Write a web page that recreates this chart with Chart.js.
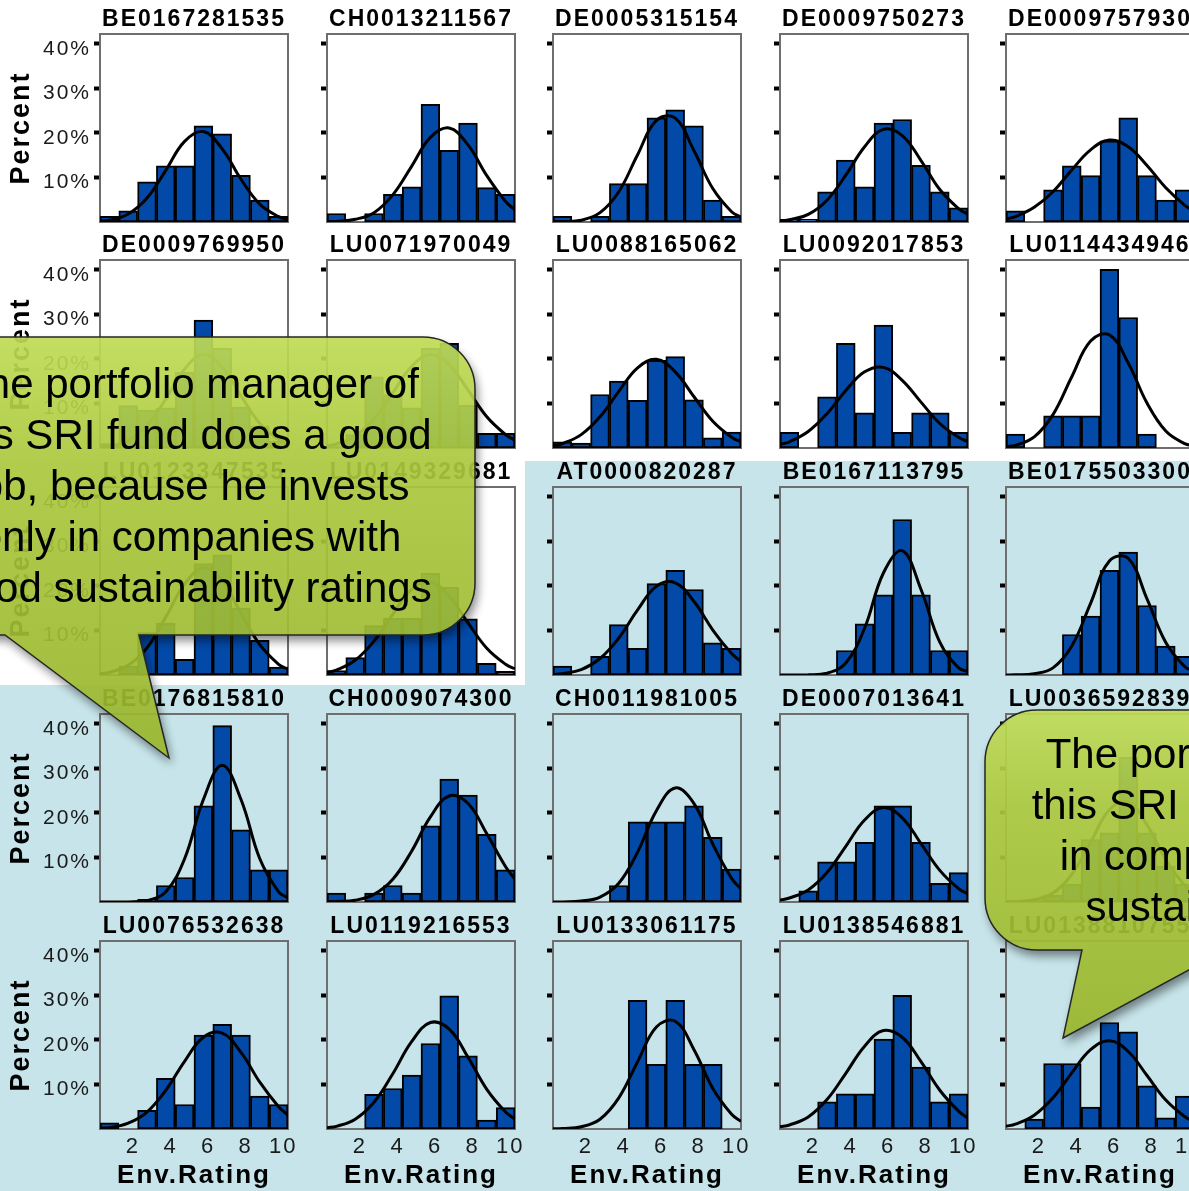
<!DOCTYPE html>
<html>
<head>
<meta charset="utf-8">
<script src="https://cdn.jsdelivr.net/npm/chart.js@4.4.0/dist/chart.umd.min.js"></script>
<style>
  html, body { margin: 0; padding: 0; }
  body {
    width: 1189px; height: 1191px; overflow: hidden; position: relative;
    background: #fff; font-family: 'Liberation Sans', Arial, sans-serif;
  }
  .bg { position: absolute; background: #c6e4e9; }
  canvas.panel { position: absolute; }
  #callouts { position: absolute; left: 0; top: 0; }
</style>
</head>
<body>
<div class="bg" style="left:525px;top:461px;width:664px;height:224px"></div>
<div class="bg" style="left:0;top:685px;width:1189px;height:506px"></div>
<div id="panels"></div>

<svg id="callouts" width="1189" height="1191" xmlns="http://www.w3.org/2000/svg">
  <defs>
    <path id="shape1" d="M -43 337 H 423 A 52 52 0 0 1 475 389 V 583 A 52 52 0 0 1 423 635 H 139 L 169 758 L 5 635 H -43 A 52 52 0 0 1 -95 583 V 389 A 52 52 0 0 1 -43 337 Z"/>
    <path id="shape2" d="M 1037 710 H 1512 A 52 52 0 0 1 1564 762 V 898 A 52 52 0 0 1 1512 950 H 1226 L 1063 1038 L 1082 950 H 1037 A 52 52 0 0 1 985 898 V 762 A 52 52 0 0 1 1037 710 Z"/>
    <linearGradient id="calloutFill" x1="0" y1="0" x2="0" y2="1">
      <stop offset="0" stop-color="#bfdb55"/>
      <stop offset="0.3" stop-color="#abc83d"/>
      <stop offset="1" stop-color="#98b52b"/>
    </linearGradient>
    <filter id="blur" x="-20%" y="-20%" width="140%" height="150%">
      <feGaussianBlur stdDeviation="5"/>
    </filter>
    <mask id="outside1" maskUnits="userSpaceOnUse" x="-200" y="0" width="1500" height="1300">
      <rect x="-200" y="0" width="1500" height="1300" fill="#fff"/>
      <use href="#shape1" fill="#000"/>
    </mask>
    <mask id="outside2" maskUnits="userSpaceOnUse" x="-200" y="0" width="1900" height="1300">
      <rect x="-200" y="0" width="1900" height="1300" fill="#fff"/>
      <use href="#shape2" fill="#000"/>
    </mask>
  </defs>

  <!-- left callout -->
  <g mask="url(#outside1)">
    <use href="#shape1" transform="translate(3,6)" fill="#000" opacity="0.45" filter="url(#blur)"/>
  </g>
  <use href="#shape1" fill="url(#calloutFill)" fill-opacity="0.92" stroke="#262626" stroke-width="1.5"/>
  <g id="text1" font-family="'Liberation Sans', Arial, sans-serif" font-size="42" text-anchor="middle" fill="#000"></g>

  <!-- right callout -->
  <g mask="url(#outside2)">
    <use href="#shape2" transform="translate(3,6)" fill="#000" opacity="0.45" filter="url(#blur)"/>
  </g>
  <use href="#shape2" fill="url(#calloutFill)" fill-opacity="0.92" stroke="#262626" stroke-width="1.5"/>
  <g id="text2" font-family="'Liberation Sans', Arial, sans-serif" font-size="42" text-anchor="middle" fill="#000"></g>
</svg>

<script>
// ── data ────────────────────────────────────────────────────────────────
// fund ISIN per panel, row by row
var codesRow1 = ['BE0167281535', 'CH0013211567', 'DE0005315154', 'DE0009750273', 'DE0009757930'];
var codesRow2 = ['DE0009769950', 'LU0071970049', 'LU0088165062', 'LU0092017853', 'LU0114434946'];
var codesRow3 = ['LU0123347535', 'LU0149329681', 'AT0000820287', 'BE0167113795', 'BE0175503300'];
var codesRow4 = ['BE0176815810', 'CH0009074300', 'CH0011981005', 'DE0007013641', 'LU0036592839'];
var codesRow5 = ['LU0076532638', 'LU0119216553', 'LU0133061175', 'LU0138546881', 'LU0138810755'];

// histogram bins (Env. rating) and percent of holdings per bin
var binCenters = [0.75, 1.75, 2.75, 3.75, 4.75, 5.75, 6.75, 7.75, 8.75, 9.75];

var barsRow1 = [
  [1.3, 2.5, 9.0, 12.6, 12.6, 21.6, 19.8, 10.5, 4.9, 1.3],
  [1.9, 0, 1.9, 6.2, 7.9, 26.4, 16.1, 22.2, 7.7, 6.2],
  [1.3, 0, 1.3, 8.6, 8.6, 23.4, 25.2, 21.6, 4.9, 1.3],
  [0.6, 0.6, 6.8, 13.9, 7.9, 22.2, 23.0, 12.7, 6.8, 3.2],
  [2.5, 0, 7.2, 12.6, 10.4, 18.2, 23.4, 10.4, 4.9, 7.2]
];
var barsRow2 = [
  [1.0, 9.5, 8.5, 9.0, 17.0, 28.7, 22.4, 9.2, 5.0, 1.5],
  [0.5, 3.0, 16.0, 12.0, 9.0, 22.4, 23.5, 9.6, 3.3, 3.3],
  [1.4, 1.1, 12.0, 15.0, 10.7, 19.7, 20.5, 10.8, 2.3, 3.6],
  [3.5, 0, 11.5, 23.5, 7.9, 27.6, 3.5, 7.9, 7.9, 3.5],
  [3.1, 0, 7.2, 7.2, 7.2, 40.1, 29.3, 3.1, 0, 0]
];
var barsRow3 = [
  [0, 2.0, 9.5, 11.6, 3.5, 25.0, 27.0, 15.0, 7.8, 1.8],
  [1.0, 3.9, 11.1, 12.7, 12.7, 22.8, 19.7, 12.6, 2.6, 0.8],
  [2.0, 0, 4.2, 11.3, 6.0, 20.5, 23.5, 19.2, 7.2, 6.0],
  [0, 0, 0, 5.5, 11.5, 18.0, 34.9, 18.0, 5.5, 5.5],
  [0, 0, 0, 9.1, 13.2, 23.5, 27.6, 15.6, 6.5, 4.2]
];
var barsRow4 = [
  [0, 0, 0.6, 3.7, 5.5, 21.6, 39.6, 16.2, 7.2, 7.2],
  [2.0, 0, 2.0, 3.7, 2.0, 17.1, 27.6, 24.0, 15.2, 7.2],
  [0, 0, 0, 3.7, 18.0, 18.0, 18.0, 21.6, 14.5, 7.4],
  [0, 2.5, 9.0, 9.0, 13.4, 21.6, 21.6, 13.4, 4.2, 6.6],
  [0, 0.5, 1.5, 4.0, 14.0, 15.5, 32.5, 15.5, 8.0, 4.0]
];
var barsRow5 = [
  [1.4, 0, 4.2, 11.4, 5.5, 21.1, 23.5, 21.1, 7.4, 5.5],
  [0, 0, 7.8, 9.1, 12.1, 19.2, 29.9, 16.4, 2.0, 4.8],
  [0, 0, 0, 0, 28.9, 14.5, 28.9, 14.5, 14.5, 0],
  [0, 0, 6.1, 7.9, 7.9, 20.2, 30.0, 13.9, 6.1, 7.9],
  [0, 2.2, 14.7, 14.7, 4.9, 23.9, 21.8, 9.7, 2.5, 7.4]
];

var curveX = [0.25, 0.75, 1.75, 2.75, 3.75, 4.75, 5.75, 6.75, 7.75, 8.75, 9.75, 10.25];

var curveRow1 = [
  [0.2, 0.4, 1.8, 5.4, 11.6, 18.1, 20.3, 16.4, 9.6, 4.0, 1.2, 0.6],
  [0.0, 0.1, 0.6, 2.1, 6.1, 12.5, 19.0, 21.1, 17.3, 10.4, 4.6, 2.7],
  [0.0, 0.1, 0.4, 2.1, 6.8, 15.1, 22.8, 23.3, 16.0, 7.5, 2.3, 1.1],
  [0.2, 0.5, 1.7, 4.9, 10.5, 16.9, 20.8, 19.4, 13.8, 7.3, 3.0, 1.7],
  [0.7, 1.2, 3.3, 6.8, 11.7, 16.2, 18.4, 16.9, 12.7, 7.7, 3.8, 2.5]
];
var curveRow2 = [
  [0.2, 0.4, 1.7, 5.0, 11.0, 17.7, 21.0, 18.2, 11.7, 5.5, 1.9, 1.0],
  [0.4, 0.9, 2.7, 6.5, 12.4, 18.3, 21.0, 18.7, 13.0, 7.0, 3.0, 1.7],
  [0.5, 1.0, 3.0, 7.0, 12.7, 18.0, 19.9, 17.1, 11.5, 6.0, 2.4, 1.4],
  [0.8, 1.4, 3.7, 7.7, 12.9, 17.1, 18.1, 15.2, 10.3, 5.5, 2.4, 1.4],
  [0.3, 0.6, 2.5, 7.5, 16.0, 24.0, 25.4, 19.1, 10.1, 3.8, 1.0, 0.5]
];
var curveRow3 = [
  [0.3, 0.6, 2.2, 6.1, 13.0, 20.4, 24.0, 21.1, 13.8, 6.8, 2.4, 1.3],
  [0.6, 1.1, 3.3, 7.6, 13.6, 19.2, 20.9, 17.7, 11.7, 6.0, 2.4, 1.4],
  [0.1, 0.3, 1.2, 3.7, 8.3, 14.6, 19.9, 20.7, 16.5, 10.1, 4.8, 3.0],
  [0.0, 0.0, 0.03, 0.4, 2.7, 10.5, 22.9, 27.9, 19.2, 7.4, 1.6, 0.8],
  [0.0, 0.03, 0.3, 1.6, 6.5, 16.1, 25.6, 26.2, 17.1, 7.3, 1.9, 0.9]
];
var curveRow4 = [
  [0.0, 0.0, 0.02, 0.3, 2.3, 9.7, 23.0, 30.7, 23.0, 9.7, 2.3, 0.9],
  [0.03, 0.1, 0.4, 1.7, 5.1, 11.4, 19.1, 23.8, 22.1, 15.3, 7.9, 5.1],
  [0.0, 0.02, 0.2, 1.1, 4.2, 11.2, 20.5, 25.6, 22.1, 13.0, 5.3, 2.9],
  [0.4, 0.9, 2.7, 6.6, 12.5, 18.4, 21.2, 18.9, 13.1, 7.1, 3.0, 1.8],
  [0.02, 0.1, 0.5, 2.0, 6.2, 13.4, 20.7, 22.5, 17.3, 9.5, 3.7, 2.0]
];
var curveRow5 = [
  [0.2, 0.3, 1.3, 3.8, 8.7, 15.2, 20.6, 21.5, 17.2, 10.5, 5.0, 3.1],
  [0.3, 0.6, 2.2, 6.0, 12.4, 19.6, 23.9, 22.4, 16.1, 8.9, 3.8, 2.2],
  [0.03, 0.1, 0.5, 2.2, 7.0, 15.1, 22.9, 24.2, 17.8, 9.1, 3.3, 1.7],
  [0.5, 0.9, 2.7, 6.6, 12.5, 18.6, 22.1, 20.6, 15.1, 8.7, 4.0, 2.4],
  [0.6, 1.1, 3.1, 7.0, 12.6, 17.8, 19.8, 17.4, 12.0, 6.5, 2.8, 1.7]
];

// tick labels
var xTickValues = [2, 4, 6, 8, 10];
var yTickValues = [10, 20, 30, 40];

// callout texts
var callout1Lines = ['The portfolio manager of', 'this SRI fund does a good', 'job, because he invests',
                     'only in companies with', 'good sustainability ratings'];
var callout2Lines = ['The portfolio manager of', 'this SRI fund even invests', 'in companies with poor',
                     'sustainability ratings'];

// ── layout ──────────────────────────────────────────────────────────────
var FONT = "'Liberation Sans', Arial, sans-serif";
var PLOT = 188;          // plot box size
var AXIS_W = 100;        // room left of the plot box
var TITLE_H = 34;        // room above the plot box
var AXIS_H = 62;         // room below the plot box
var PAD_R = 15;

Chart.defaults.font.family = FONT;

var codes = [codesRow1, codesRow2, codesRow3, codesRow4, codesRow5];
var bars = [barsRow1, barsRow2, barsRow3, barsRow4, barsRow5];
var curves = [curveRow1, curveRow2, curveRow3, curveRow4, curveRow5];

// Scale text in the reference is slightly letter-spaced.
var textSpacing = {
  id: 'textSpacing',
  beforeDraw: function(chart) { chart.ctx.letterSpacing = '2px'; },
  beforeDatasetsDraw: function(chart) { chart.ctx.letterSpacing = '0px'; }
};

// gray box round the plot area
var plotFrame = {
  id: 'plotFrame',
  beforeDatasetsDraw: function(chart) {
    var a = chart.chartArea, ctx = chart.ctx;
    ctx.save();
    ctx.strokeStyle = '#6e6e6e';
    ctx.lineWidth = 2;
    ctx.strokeRect(a.left, a.top, a.right - a.left, a.bottom - a.top);
    ctx.restore();
  }
};

function makePanel(r, c) {
  var plotLeft = Math.round(100 + c * 226.6);
  var plotTop = Math.round(33.5 + r * 226.75);
  var isLeft = c === 0, isBottom = r === 4;

  var canvas = document.createElement('canvas');
  canvas.className = 'panel';
  canvas.width = AXIS_W + PLOT + PAD_R;
  canvas.height = TITLE_H + PLOT + AXIS_H;
  canvas.style.left = (plotLeft - AXIS_W) + 'px';
  canvas.style.top = (plotTop - TITLE_H) + 'px';
  document.getElementById('panels').appendChild(canvas);

  var barVals = bars[r][c];
  var curveVals = curves[r][c];

  new Chart(canvas, {
    type: 'bar',
    data: {
      datasets: [
        {
          type: 'line',
          data: curveX.map(function(x, i) { return { x: x, y: curveVals[i] }; }),
          borderColor: '#000',
          borderWidth: 3,
          pointRadius: 0,
          tension: 0.4,
          fill: false,
          order: 0
        },
        {
          type: 'bar',
          data: binCenters.map(function(x, i) { return { x: x, y: barVals[i] > 0 ? barVals[i] : null }; }),
          backgroundColor: '#0349a8',
          borderColor: '#000',
          borderWidth: 2,
          borderSkipped: false,
          barPercentage: 1,
          categoryPercentage: 1,
          order: 1
        }
      ]
    },
    options: {
      responsive: false,
      animation: false,
      events: [],
      layout: { padding: { left: 0, top: 0, right: PAD_R, bottom: 0 } },
      plugins: {
        legend: { display: false },
        tooltip: { enabled: false },
        title: {
          display: true,
          text: codes[r][c],
          fullSize: false,
          color: '#000',
          font: { family: FONT, size: 23, weight: 'bold', lineHeight: 1.2 },
          padding: { top: 5.4, bottom: 1 }
        }
      },
      scales: {
        x: {
          type: 'linear',
          offset: false,
          min: 0.25,
          max: 10.25,
          afterBuildTicks: function(s) { s.ticks = xTickValues.map(function(v) { return { value: v }; }); },
          afterFit: function(s) { s.height = AXIS_H; },
          grid: { display: false, drawTicks: false, offset: false },
          border: { display: false },
          ticks: { display: isBottom, padding: 5, color: '#1a1a1a', font: { family: FONT, size: 22 }, maxRotation: 0 },
          title: { display: isBottom, text: 'Env.Rating', color: '#000', font: { family: FONT, size: 26, weight: 'bold' }, padding: { top: 0, bottom: 0 } }
        },
        y: {
          type: 'linear',
          min: 0,
          max: 42.2,
          afterBuildTicks: function(s) { s.ticks = yTickValues.map(function(v) { return { value: v }; }); },
          afterFit: function(s) { s.width = AXIS_W; },
          grid: { drawOnChartArea: false, drawTicks: true, tickLength: 6, tickWidth: 4, tickColor: '#000' },
          border: { display: false },
          ticks: {
            display: isLeft, padding: 3, labelOffset: 5, color: '#1a1a1a',
            font: { family: FONT, size: 21 },
            callback: function(v) { return v + '%'; }
          },
          title: { display: isLeft, text: 'Percent', color: '#000', font: { family: FONT, size: 27, weight: 'bold' }, padding: { top: 5.8, bottom: 0 } }
        }
      }
    },
    plugins: [textSpacing, plotFrame]
  });
}

for (var r = 0; r < 5; r++) {
  for (var c = 0; c < 5; c++) makePanel(r, c);
}

// ── callout texts ───────────────────────────────────────────────────────
function fillCallout(groupId, lines, cx, firstBaseline, step) {
  var g = document.getElementById(groupId);
  lines.forEach(function(line, i) {
    var t = document.createElementNS('http://www.w3.org/2000/svg', 'text');
    t.setAttribute('x', cx);
    t.setAttribute('y', firstBaseline + i * step);
    t.textContent = line;
    g.appendChild(t);
  });
}
fillCallout('text1', callout1Lines, 190, 398, 51);
fillCallout('text2', callout2Lines, 1274.5, 768, 51);
</script>
</body>
</html>
